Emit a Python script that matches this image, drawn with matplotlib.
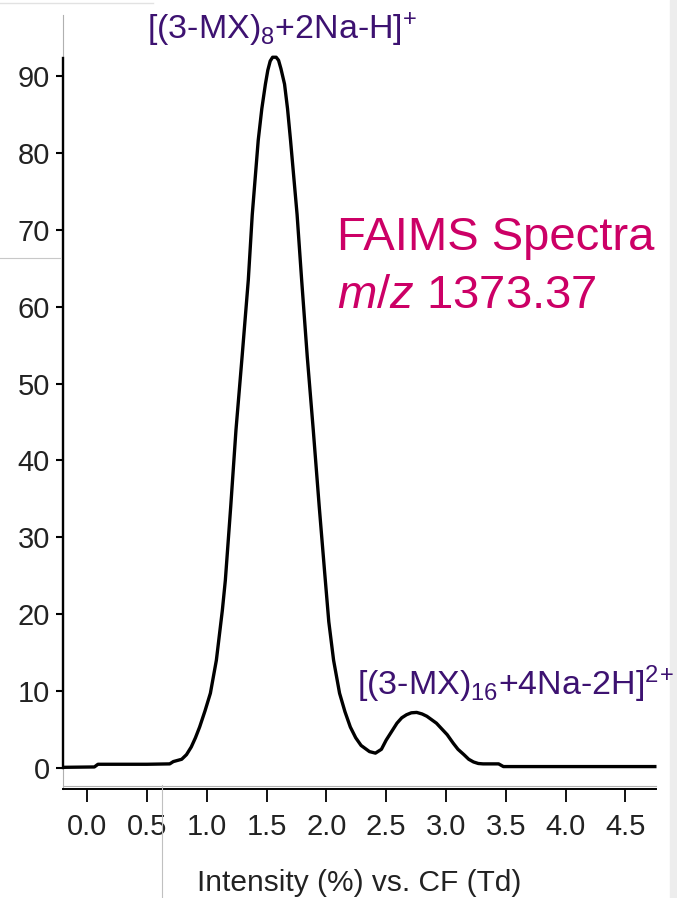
import matplotlib
matplotlib.use("Agg")
import matplotlib.pyplot as plt
from matplotlib.lines import Line2D
from matplotlib.patches import Rectangle

# FAIMS trace: compensation field (Td) vs intensity (%)
cf = [-0.21, 0.06, 0.09, 0.30, 0.50, 0.69, 0.72, 0.79, 0.83, 0.87, 0.905,
      0.94, 0.985, 1.03, 1.08, 1.13, 1.155, 1.20, 1.244, 1.295, 1.347, 1.38,
      1.43, 1.46, 1.49, 1.51, 1.53, 1.55, 1.58, 1.60, 1.62, 1.65, 1.675,
      1.70, 1.755, 1.793, 1.84, 1.89, 1.94, 1.985, 2.02, 2.06, 2.11, 2.155,
      2.20, 2.245, 2.29, 2.36, 2.41, 2.46, 2.50, 2.59, 2.63, 2.67, 2.71,
      2.755, 2.80, 2.84, 2.92, 3.01, 3.06, 3.10, 3.15, 3.19, 3.23, 3.27,
      3.31, 3.44, 3.48, 4.76]
intensity = [0.05, 0.1, 0.45, 0.45, 0.45, 0.5, 0.8, 1.1, 1.7, 2.7, 3.9,
             5.3, 7.4, 9.7, 14.0, 20.5, 24.4, 34.0, 44.0, 53.5, 63.5, 72.0,
             81.7, 85.8, 89.0, 90.8, 92.0, 92.5, 92.5, 92.1, 91.0, 89.0, 85.8,
             81.7, 72.0, 63.5, 53.5, 44.0, 34.0, 25.5, 19.0, 14.0, 9.7, 7.3,
             5.3, 3.9, 2.9, 2.1, 1.9, 2.4, 3.6, 5.8, 6.5, 6.9, 7.15,
             7.2, 7.0, 6.7, 5.8, 4.3, 3.2, 2.4, 1.7, 1.1, 0.75, 0.55,
             0.5, 0.5, 0.15, 0.15]

xticks = [0.0, 0.5, 1.0, 1.5, 2.0, 2.5, 3.0, 3.5, 4.0, 4.5]
yticks = [0, 10, 20, 30, 40, 50, 60, 70, 80, 90]

label_main = r"[(3-MX)$_{8}$+2Na-H]$^{+}$"
label_dimer = r"[(3-MX)$_{16}$+4Na-2H]$^{2}$$^{+}$"
title_1 = "FAIMS Spectra"
title_2 = r"$\mathit{m/z}$ 1373.37"
xlabel = "Intensity (%) vs. CF (Td)"

PURPLE = "#3d1271"
PINK = "#cc0066"

plt.rcParams["font.family"] = ["Liberation Sans", "DejaVu Sans"]
plt.rcParams["mathtext.fontset"] = "custom"
plt.rcParams["mathtext.rm"] = "Liberation Sans"
plt.rcParams["mathtext.it"] = "Liberation Sans:italic"
plt.rcParams["mathtext.bf"] = "Liberation Sans:bold"

W, H = 677, 898
fig = plt.figure(figsize=(W / 100, H / 100), dpi=100)
ax = fig.add_axes([62.6 / W, (H - 789) / H, (656.5 - 62.6) / W, (789 - 15) / H])

ax.plot(cf, intensity, color="black", lw=2.4, solid_joinstyle="round",
        solid_capstyle="butt", clip_on=False)

ax.set_xlim(-0.2057, 4.760)
ax.set_ylim(-2.77, 98.0)

ax.set_xticks(xticks)
ax.set_xticklabels([f"{v:.1f}" for v in xticks])
ax.set_yticks(yticks)

for s in ["top", "right"]:
    ax.spines[s].set_visible(False)
ax.spines["left"].set_bounds(0, 92.4)
ax.spines["left"].set_linewidth(1.7)
ax.spines["bottom"].set_linewidth(1.4)

ax.tick_params(axis="x", direction="out", length=9.5, width=1.3, pad=8,
               labelsize=21, colors="black", labelcolor="#222222")
ax.tick_params(axis="y", direction="out", length=5, width=1.5, pad=4,
               labelsize=21, colors="black", labelcolor="#222222")

ax.set_xlabel(xlabel, fontsize=21.5, color="#222222", labelpad=20)

# thin grey frame lines of the plotting window
ax.plot([0, 0], [0, 1], transform=ax.transAxes, color="#b0b0b0", lw=0.8,
        clip_on=False, zorder=0)
ax.plot([0, 1], [0.0043, 0.0043], transform=ax.transAxes, color="#b0b0b0",
        lw=0.8, clip_on=False, zorder=0)

# annotations
ax.text(0.50, 94.8, label_main, color=PURPLE, fontsize=24.5,
        ha="left", va="baseline")
ax.text(2.26, 9.47, label_dimer, color=PURPLE, fontsize=24.5,
        ha="left", va="baseline", clip_on=False)
ax.text(2.086, 67.4, title_1, color=PINK, fontsize=34, ha="left", va="baseline")
ax.text(2.086, 59.86, title_2, color=PINK, fontsize=34, ha="left", va="baseline")

# screenshot edges around the plot
fig.add_artist(Rectangle((670 / W, 0), 7 / W, 1, transform=fig.transFigure,
                         color="#ededed", zorder=-1))
fig.add_artist(Line2D([0, 153 / W], [1 - 3 / H, 1 - 3 / H], color="#e2e2e2",
                      lw=1, transform=fig.transFigure))
fig.add_artist(Line2D([0, 60 / W], [1 - 258 / H, 1 - 258 / H], color="#c8c8c8",
                      lw=0.8, transform=fig.transFigure))
fig.add_artist(Line2D([161.5 / W, 161.5 / W], [0, (H - 785) / H],
                      color="#c0c0c0", lw=0.8, transform=fig.transFigure))

fig.savefig("out.png", dpi=100)
